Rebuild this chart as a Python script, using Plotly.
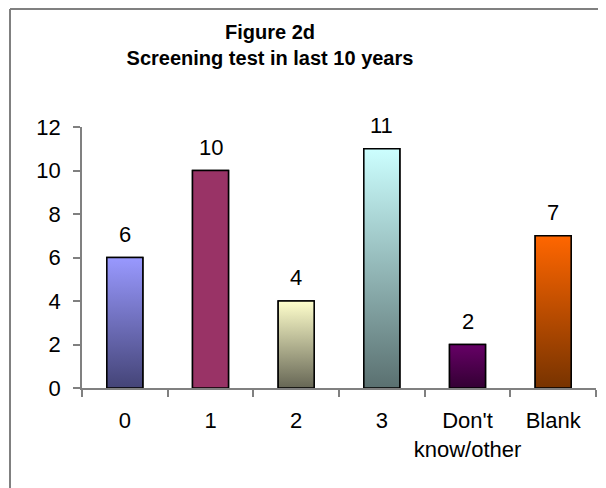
import plotly.graph_objects as go

categories = ["0", "1", "2", "3", "Don't<br>know/other", "Blank"]
values = [6, 10, 4, 11, 2, 7]
top_colors = ["#9999FF", "#993366", "#FFFFCC", "#CCFFFF", "#660066", "#FF6600"]
bottom_colors = ["#444477", "#993366", "#666655", "#5A7070", "#330033", "#773300"]
y_ticks = [0, 2, 4, 6, 8, 10, 12]

BAR_W = 0.42
FONT = "Liberation Sans, Arial, sans-serif"
xs = list(range(len(categories)))

# figure geometry (the page places the figure 8px in from the top-left)
W, H = 598, 480
L, R, T, B = 74, 10, 119, 100
PW, PH = W - L - R, H - T - B

fig = go.Figure()
fig.add_trace(go.Bar(
    x=xs, y=values, width=BAR_W,
    marker=dict(color=top_colors, line=dict(color="black", width=1.5)),
    showlegend=False, hoverinfo="skip",
))

# gradient overlay for each bar, derived from the data
for i, v in enumerate(values):
    x0, x1 = i - BAR_W / 2, i + BAR_W / 2
    fig.add_trace(go.Scatter(
        x=[x0, x1, x1, x0, x0], y=[0, 0, v, v, 0],
        mode="lines", fill="toself",
        fillgradient=dict(type="vertical",
                          colorscale=[[0, bottom_colors[i]], [1, top_colors[i]]]),
        line=dict(color="black", width=1.5),
        showlegend=False, hoverinfo="skip",
    ))

for i, v in enumerate(values):
    fig.add_annotation(x=i, y=v, text=str(v), showarrow=False,
                       yanchor="bottom", yshift=9,
                       font=dict(family=FONT, size=22, color="black"))

fig.update_layout(
    width=W, height=H,
    margin=dict(l=L, r=R, t=T, b=B),
    paper_bgcolor="white", plot_bgcolor="white",
    title=dict(text="<b>Figure 2d<br>Screening test in last 10 years</b>",
               x=262 / W, xanchor="center", xref="container",
               y=1 - 31 / H, yanchor="middle", yref="container",
               font=dict(family=FONT, size=20, color="black")),
    bargap=0.58,
)
fig.update_xaxes(
    range=[-0.5, 5.5], tickmode="array", tickvals=xs, ticktext=categories,
    ticks="", showline=True, linecolor="#808080", linewidth=1.5,
    showgrid=False, zeroline=False, ticklabelstandoff=12,
    tickfont=dict(family=FONT, size=22, color="black"),
    minor=dict(tickmode="array", tickvals=[i - 0.5 for i in range(len(categories) + 1)],
               ticks="outside", ticklen=7, tickcolor="#808080", tickwidth=1.5, showgrid=False),
)
fig.update_yaxes(
    range=[0, 12], tickmode="array", tickvals=y_ticks,
    ticks="outside", ticklen=7, tickcolor="#808080", tickwidth=1.5,
    showline=True, linecolor="#808080", linewidth=1.5,
    showgrid=False, zeroline=False, ticklabelstandoff=8,
    tickfont=dict(family=FONT, size=22, color="black"),
)

# frame lines (top and left) of the chart area
fx = (2 - L) / PW
fy = 1 + (T - 1) / PH
fig.add_shape(type="line", xref="paper", yref="paper",
              x0=fx, x1=1.1, y0=fy, y1=fy,
              line=dict(color="#808080", width=2))
fig.add_shape(type="line", xref="paper", yref="paper",
              x0=fx, x1=fx, y0=fy, y1=-0.6,
              line=dict(color="#808080", width=2))

fig.write_html("out.html")
